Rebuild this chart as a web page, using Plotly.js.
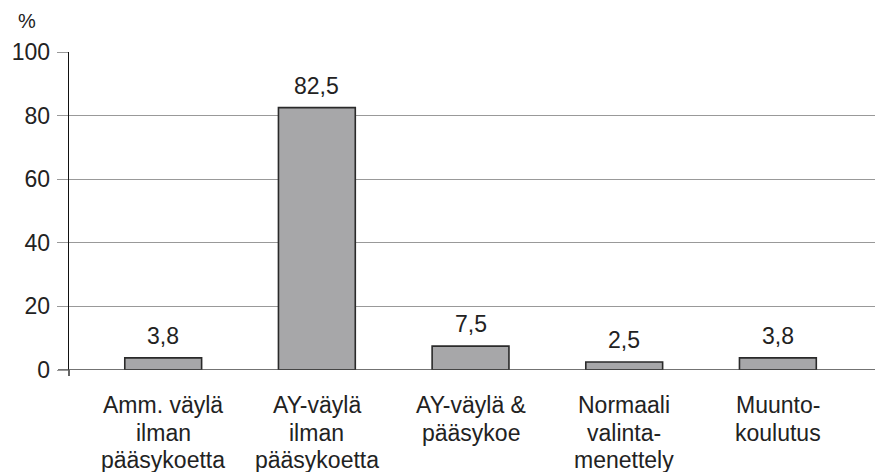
<!DOCTYPE html>
<html>
<head>
<meta charset="utf-8">
<script src="https://cdn.plot.ly/plotly-3.0.1.min.js"></script>
<style>html,body{margin:0;padding:0;background:#fff;}#chart{width:875px;height:472px;}</style>
</head>
<body>
<div id="chart"></div>
<script>
const categories = [
  "Amm. väylä<br>ilman<br>pääsykoetta",
  "AY-väylä<br>ilman<br>pääsykoetta",
  "AY-väylä &amp;<br>pääsykoe",
  "Normaali<br>valinta-<br>menettely",
  "Muunto-<br>koulutus"
];
const values = [3.8, 82.5, 7.5, 2.5, 3.8];
const yTicks = [0, 20, 40, 60, 80, 100];

const FONT = "Liberation Sans, Arial, sans-serif";
const xIdx = categories.map((c, i) => i);

const trace = {
  type: "bar",
  x: xIdx,
  y: values,
  width: 0.5,
  marker: { color: "#a7a7a9", line: { color: "#2a2a2a", width: 1.6 } },
  hoverinfo: "skip"
};

const annotations = values.map((v, i) => ({
  x: i, y: v, xref: "x", yref: "y",
  text: v.toFixed(1).replace(".", ","),
  showarrow: false, yanchor: "bottom", yshift: 7,
  font: { family: FONT, size: 23, color: "#222" }
}));

// category labels, one annotation per line for tight line spacing
const LINE_GAP = 27.5;
categories.forEach((c, i) => {
  c.split("<br>").forEach((line, k) => {
    annotations.push({
      x: i, y: 0, xref: "x", yref: "y",
      text: line, showarrow: false,
      xanchor: "center", yanchor: "middle",
      yshift: -35 - k * LINE_GAP,
      font: { family: FONT, size: 23, color: "#222" }
    });
  });
});

annotations.push({
  xref: "paper", yref: "paper", x: -0.052, y: 1.0, yshift: 18,
  xanchor: "center", yanchor: "bottom", text: "%", showarrow: false,
  font: { family: FONT, size: 20, color: "#222" }
});

const layout = {
  width: 875, height: 472,
  margin: { l: 69, r: 0, t: 52, b: 102, pad: 0 },
  paper_bgcolor: "#fff", plot_bgcolor: "#fff",
  showlegend: false,
  font: { family: FONT, size: 22, color: "#222" },
  xaxis: {
    range: [-0.613, 4.632],
    tickmode: "array", tickvals: xIdx, ticktext: categories,
    showticklabels: false,
    ticks: "", showgrid: false, zeroline: false, showline: false
  },
  yaxis: {
    range: [0, 100],
    tickmode: "array", tickvals: yTicks, ticktext: yTicks.map(String),
    ticks: "outside", ticklen: 11, tickcolor: "#999", tickwidth: 1,
    showgrid: true, gridcolor: "#999", gridwidth: 1,
    zeroline: false,
    showline: true, linecolor: "#111", linewidth: 1.3,
    ticklabelstandoff: 2,
    tickfont: { family: FONT, size: 23, color: "#222" }
  },
  shapes: [
    { type: "line", xref: "paper", yref: "y", x0: -11/806, x1: 1, y0: 0, y1: 0,
      line: { color: "#444", width: 1.3 } },
    { type: "line", xref: "paper", yref: "paper", x0: 0, x1: 0, y0: -6/318, y1: 0,
      line: { color: "#111", width: 1.3 } }
  ],
  annotations: annotations
};

Plotly.newPlot("chart", [trace], layout, { staticPlot: true, displayModeBar: false });
</script>
</body>
</html>
